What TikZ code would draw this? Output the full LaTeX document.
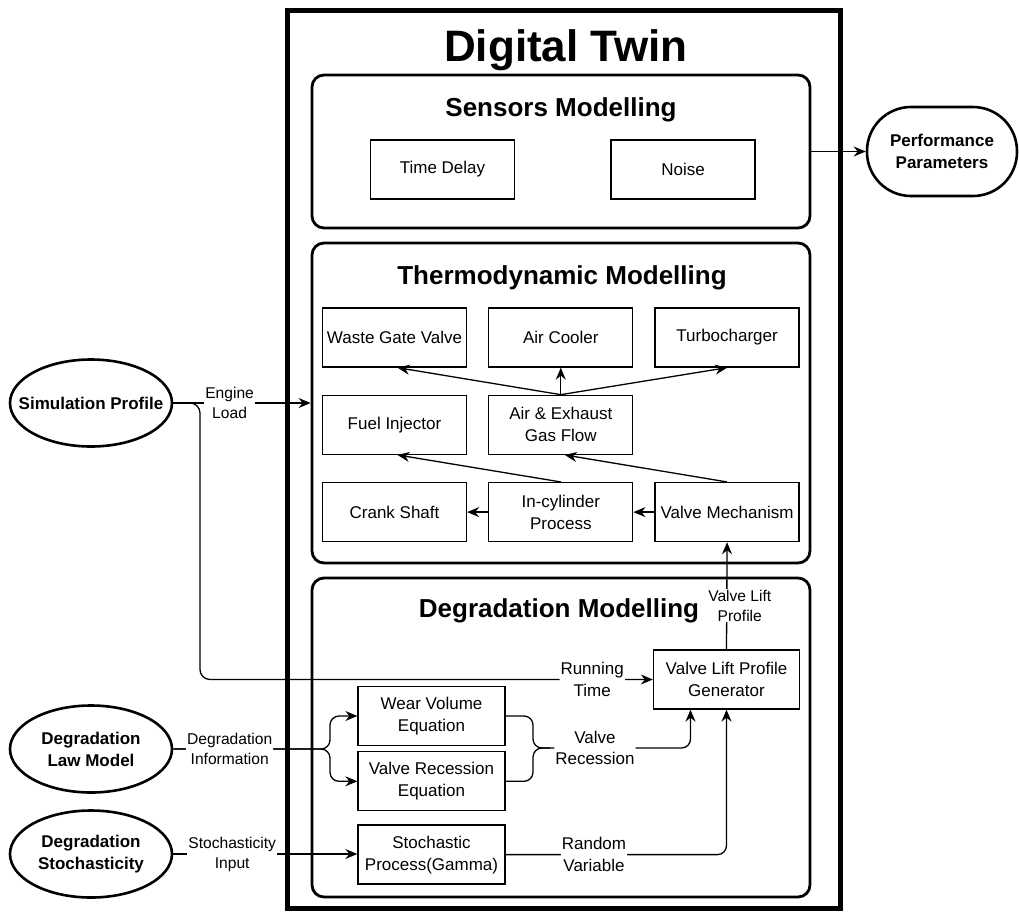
\documentclass[tikz,border=0pt]{standalone}
\usepackage{fontspec}
\setmainfont{Liberation Sans}
\usetikzlibrary{arrows.meta,positioning,shapes.geometric}
\tikzset{
    %Define standard arrow tip
    >={Stealth[length=12pt,width=10pt,inset=4pt]},
    %Define style for boxes
    block/.style={
           rectangle,
           draw=black, line width=1.3pt,
           minimum width=144pt,
           minimum height=59pt,
           inner sep=1pt,
           font=\fontsize{17}{22}\selectfont,
           align=center},
    %Define style for the modelling panels
    panel/.style={
           rectangle,
           rounded corners=12pt,
           draw=black, line width=2.8pt,
           minimum width=498pt},
    heading/.style={
           font=\bfseries\fontsize{26}{30}\selectfont,
           anchor=base},
    %Define style for inputs and outputs
    source/.style={
           ellipse,
           draw=black, line width=2.6pt,
           minimum width=162pt,
           minimum height=87pt,
           inner xsep=-16pt, inner ysep=0pt,
           font=\bfseries\fontsize{17}{22}\selectfont,
           align=center},
    % Define label styles
    tag/.style={
           fill=white,
           inner sep=1pt,
           font=\fontsize{15.6}{20}\selectfont,
           align=center},
    bigtag/.style={tag, font=\fontsize{17}{21.5}\selectfont},
    % Define arrow style
    pil/.style={
           ->,
           line width=1.3pt},
}

\begin{document}
\begin{tikzpicture}[x=1pt,y=-1pt,node distance=21pt]
\useasboundingbox (0,0) rectangle (1019,913);
% outer frame
\node[draw, line width=5pt, minimum width=553pt, minimum height=898pt] (twin) at (563.5,459) {};
\node[font=\bfseries\fontsize{44}{50}\selectfont, anchor=base] (twintitle) at (566,61) {Digital Twin};

% sensors
\node[panel, minimum height=153pt] (sensors) at (561,151.5) {};
\node[heading] (sensorstitle) at (561,116) {Sensors Modelling};
\node[block] (delay) at (442.5,169.5) {Time Delay};
\node[block] (noise) at (683,169.5) {Noise};

% thermodynamics
\node[panel, minimum height=320pt] (thermo) at (561,403) {};
\node[heading] (thermotitle) at (562,284) {Thermodynamic Modelling};
\node[block] (wgv) at (394.5,337.5) {Waste Gate Valve};
\node[block, right=of wgv] (cooler) {Air Cooler};
\node[block, right=of cooler] (turbo) {Turbocharger};
\node[block, below=27pt of wgv] (fuel) {Fuel Injector};
\node[block, below=27pt of cooler] (flow) {Air \& Exhaust\\Gas Flow};
\node[block, below=27pt of fuel] (crank) {Crank Shaft};
\node[block, below=27pt of flow] (cylinder) {In-cylinder\\Process};
\node[block, right=of cylinder] (valve) {Valve Mechanism};

% degradation
\node[panel, minimum height=319pt] (degr) at (561,737.5) {};
\node[heading] (degrtitle) at (559,617) {Degradation Modelling};
\node[block, minimum width=146pt] (gen) at (726.5,679.5) {Valve Lift Profile\\Generator};
\node[block, minimum width=147pt] (wear) at (431.5,716) {Wear Volume\\Equation};
\node[block, minimum width=147pt, below=5pt of wear] (recess) {Valve Recession\\Equation};
\node[block, minimum width=147pt, below=13pt of recess] (stoch) {Stochastic\\Process(Gamma)};

% inputs and output
\node[source] (sim) at (91,403) {Simulation Profile};
\node[source] (law) at (91,749) {Degradation\\Law Model};
\node[source] (rand) at (91,854) {Degradation\\Stochasticity};
\node[draw, line width=2.6pt, rounded corners=44pt, minimum width=150pt, minimum height=89pt,
      inner sep=0pt, font=\bfseries\fontsize{17}{22}\selectfont, align=center] (perf) at (942,151.5) {Performance\\Parameters};

\coordinate (split) at (200,403);
\coordinate (fork) at (330,749);
\coordinate (join) at (533,748);
\coordinate (merge) at (550,748);

\draw[pil] (sensors.east) -- (perf.west);

\draw[pil] (flow.north) -- ([xshift=3pt]wgv.south);
\draw[pil] (flow.north) -- (cooler.south);
\draw[pil] (flow.north) -- (turbo.south);
\draw[pil] (cylinder.north) -- ([xshift=3pt]fuel.south);
\draw[pil] (valve.north) -- ([xshift=4pt]flow.south);
\draw[pil] (cylinder.west) -- (crank.east);
\draw[pil] (valve.west) -- (cylinder.east);

\draw[pil, rounded corners=10pt] (sim.east) -- (split) |- node[bigtag, pos=0.933]{Running\\Time} (gen.west);
\draw[pil] (sim.east) -- node[tag, pos=0.41]{Engine\\Load} (thermo.west);

\draw[pil, rounded corners=9pt] (law.east) -- (fork) |- (recess.west);
\draw[pil, rounded corners=9pt] (law.east) -- node[tag, pos=0.36]{Degradation\\Information} (fork) |- (wear.west);
\draw[pil] (rand.east) -- node[tag, pos=0.32]{Stochasticity\\Input} (rand.east -| stoch.west);

\draw[rounded corners=9pt, line width=1.3pt] (wear.east) -| (join) -- (merge);
\draw[rounded corners=9pt, line width=1.3pt] (recess.east) -| (join) -- (merge);
\draw[pil, rounded corners=9pt] (merge) -| node[bigtag, pos=0.16]{Valve\\Recession} ([xshift=-36pt]gen.south);
\draw[pil, rounded corners=9pt] (stoch.east) -| node[bigtag, pos=0.2]{Random\\Variable} (gen.south);
\draw[pil] (gen.north) -- node[tag, pos=0.41, xshift=13pt]{Valve Lift\\Profile} (valve.south);
\end{tikzpicture}
\end{document}
